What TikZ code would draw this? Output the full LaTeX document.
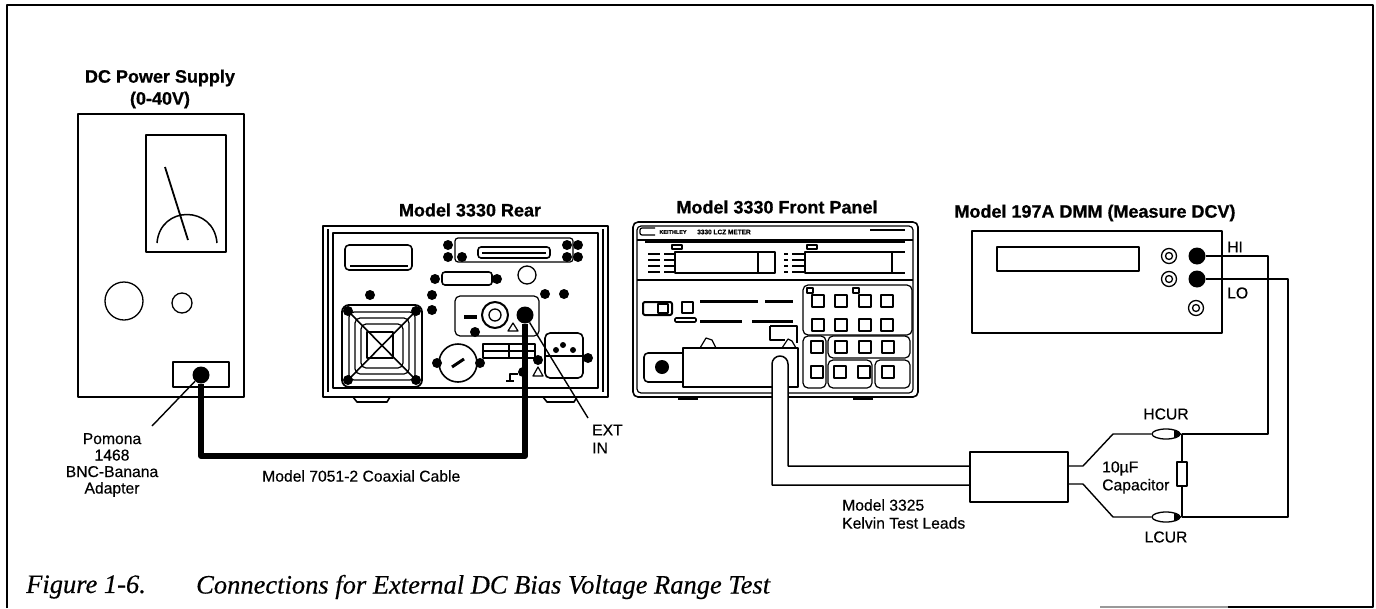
\documentclass[tikz,border=0pt]{standalone}
\usepackage{fontspec}
\setmainfont{Liberation Sans}[BoldFeatures={FakeBold=0.8}]
\newfontfamily\leadfont[FakeBold=0.4]{Liberation Sans}
\newfontfamily\capfont[ItalicFeatures={FakeBold=0.4}]{Liberation Serif}
\usetikzlibrary{shapes.geometric}

\tikzset{%
        every panel/.style={
            rectangle,
            draw,
            line width=1.3,
            inner sep=0pt
        },
        every jack/.style={
            circle,
            fill=black,
            inner sep=0pt,
            minimum size=17
        },
        ring jack/.style={
            circle,
            draw,
            line width=1.3,
            inner sep=0pt,
            minimum size=15
        },
        rear dot/.style={
            circle,
            fill=black,
            inner sep=0pt,
            minimum size=10
        },
        fp key/.style={
            rectangle,
            draw,
            line width=1.4,
            inner sep=0pt,
            minimum size=12
        },
        unit title/.style={
            font=\bfseries\fontsize{18}{22}\selectfont
        },
        lead text/.style={
            font=\leadfont\fontsize{15.7}{18}\selectfont,
            inner sep=0pt
        },
        cap text/.style={
            anchor=west,
            inner sep=0pt,
            font=\capfont\itshape\fontsize{26.5}{28}\selectfont
        },
        thin part/.style={
            line width=1.2
        },
    }

\begin{document}
\begin{tikzpicture}[x=1pt, y=-1pt, line join=round]

        \useasboundingbox (0,0) rectangle (1376,608);

        \coordinate (frame-a) at (7,608);
        \coordinate (frame-b) at (7,5);
        \coordinate (frame-c) at (1373,5);
        \coordinate (frame-d) at (1373,607);
        \coordinate (frame-e) at (1228,607);
        \coordinate (frame-f) at (1100,607);
        \draw [line width=1.6] (frame-a) -- (frame-b) -- (frame-c) -- (frame-d) -- (frame-e);
        \draw [line width=1.2, black!40] (frame-e) -- (frame-f);

        \node [unit title] (title-supply) at (160,78) {DC Power Supply};
        \node [unit title] (title-range) at (160,100) {(0-40V)};
        \node [unit title] (title-rear) at (470,210) {Model 3330 Rear};
        \node [unit title] (title-front) at (777,207) {Model 3330 Front Panel};
        \node [unit title] (title-dmm) at (1095,213) {Model 197A DMM (Measure DCV)};

        \node [every panel, minimum width=166, minimum height=283] (supply) at (161,255.5) {};
        \node [every panel, minimum width=80, minimum height=117] (meter) at (186,193.5) {};
        \draw [line width=1.8] (165,167) -- (188,240);
        \draw [line width=1.5] (157,243) .. controls (160,205) and (214,205) .. (217,243);
        \node [ring jack, minimum size=38] (knob-big) at (124,301) {};
        \node [ring jack, minimum size=20] (knob-small) at (182,303) {};
        \node [every panel, minimum width=56, minimum height=25] (supply-port) at (201,374.5) {};

        \draw [line width=2.5] (323,226) rectangle (608,397);
        \draw [thin part] (333,233) rectangle (598,388);
        \draw [thin part] (328,229) -- (328,392) (603,229) -- (603,392);
        \draw [line width=1.6] (353,397) -- (357,402) -- (387,402) -- (390,397);
        \draw [line width=1.6] (543,397) -- (547,402) -- (574,402) -- (577,397);
        \draw [line width=1.6, rounded corners=4] (345,245) rectangle (412,270);
        \draw [thin part] (350,266) -- (408,266);
        \draw [thin part, rounded corners=3] (455,238) rectangle (573,262);
        \draw [line width=1.6, rounded corners=3] (478,247) rectangle (550,258);
        \draw [line width=1.6] (482,253) -- (546,253);
        \draw [line width=1.6, rounded corners=3] (442,272) rectangle (492,285);
        \node [ring jack, minimum size=18] (rear-knob) at (527,275) {};
        \draw [thin part, rounded corners=5] (455,296) rectangle (539,336);
        \draw [line width=4] (464,317) -- (477,317);
        \node [ring jack, minimum size=26, line width=2] (rear-bnc) at (495,315) {};
        \node [ring jack, minimum size=12] (rear-bnc-in) at (495,315) {};
        \draw [thin part] (513,323) -- (518,331) -- (508,331) -- cycle;

        \draw [line width=1.8, rounded corners=7] (342,305) rectangle (422,387);
        \foreach \d in {7,13,19}
            \draw [thin part, rounded corners=5] (342+\d,305+\d) rectangle (422-\d,387-\d);
        \draw [thin part] (367,332) rectangle (393,358);
        \draw [line width=1.6] (348,311) -- (416,380) (416,311) -- (348,380);

        \node [ring jack, minimum size=38, line width=1.6] (rear-gauge) at (458,363) {};
        \draw [line width=3] (452,367) -- (464,359);
        \draw [thin part] (483,344) rectangle (535,358) (483,351) -- (535,351) (509,344) -- (509,358);
        \draw [thin part] (538,367) -- (543,376) -- (533,376) -- cycle;
        \draw [line width=1.8] (518,374) -- (510,374) -- (510,382) (506,381) -- (514,381);
        \draw [line width=1.6, rounded corners=5] (545,333) rectangle (583,378);
        \draw [thin part] (545,356) -- (583,356);

        \foreach \x/\y [count=\i] in {448/245,448/257,462/257,567/245,578/245,567/257,578/257,
            435/279,497/279,370/295,432/295,432/310,545/294,564/294,475/332,
            348/311,416/311,348/380,416/380,437/363,480/363,538/360,523/372,588/358}
            \node [rear dot] (rear-dot-\i) at (\x,\y) {};
        \foreach \x/\y [count=\i] in {556/350,563/345,573/350}
            \node [rear dot, minimum size=6] (mains-pin-\i) at (\x,\y) {};

        \node [every jack] (supply-jack) at (201,375) {};
        \node [every jack] (rear-jack) at (525,315) {};
        \coordinate (cable-low) at (360,456);
        \draw [line width=6] (supply-jack) |- (cable-low) -| (rear-jack);

        \coordinate (pomona-end) at (152,426);
        \draw [line width=1.4] (supply-jack) -- (pomona-end);
        \coordinate (ext-end) at (588,418);
        \draw [line width=1.4] (rear-jack) -- (ext-end);

        \node [lead text, align=center, font=\leadfont\fontsize{15.7}{16.5}\selectfont] (pomona) at (112,465) {Pomona\\1468\\BNC-Banana\\Adapter};
        \node [lead text, align=left, anchor=west] (ext-in) at (592,439) {EXT\\IN};
        \node [lead text, anchor=west] (cable-text) at (262,476) {Model 7051-2 Coaxial Cable};

        \draw [line width=1.6, rounded corners=5] (633,222) rectangle (918,397);
        \draw [thin part, rounded corners=4] (637,226) rectangle (913,393);
        \draw [thin part] (637,240) -- (913,240);
        \draw [line width=1.6] (645,242) -- (905,242) (637,280) -- (913,280);
        \draw [thin part, rounded corners=2] (655,228) -- (640,228) -- (640,235) -- (655,235);
        \node [font=\bfseries\fontsize{5.5}{6}\selectfont] (logo) at (673,232) {KEITHLEY};
        \node [font=\bfseries\fontsize{6.5}{7}\selectfont] (fp-name) at (724,232) {3330 LCZ METER};
        \draw [line width=1.5] (870,230) -- (905,230);
        \draw [line width=3] (678,398) -- (698,398) (853,398) -- (873,398);

        \draw [thin part] (675,252) rectangle (758,273) (758,252) -- (775,252) -- (775,273) -- (758,273);
        \draw [thin part] (805,252) rectangle (892,273) (892,252) -- (905,252) (892,273) -- (905,273);
        \foreach \y in {254,260,266,272} {
            \draw [line width=2] (648,\y) -- (660,\y);
            \draw [thin part] (664,\y) -- (674,\y);
            \draw [line width=2] (784,\y) -- (788,\y);
            \draw [thin part] (792,\y) -- (804,\y);
        }
        \draw [thin part] (672,245) rectangle (682,249) (807,245) rectangle (817,249);

        \draw [thin part, rounded corners=5] (803,285) rectangle (912,335);
        \draw [thin part, rounded corners=5] (803,336) rectangle (826,388);
        \draw [thin part, rounded corners=5] (828,336) rectangle (910,358);
        \draw [thin part, rounded corners=5] (828,360) rectangle (872,388);
        \draw [thin part, rounded corners=5] (875,360) rectangle (910,388);
        \draw [thin part] (807,288) rectangle (813,293) (853,288) rectangle (859,293);
        \foreach \x/\y [count=\i] in {818/301,841/301,865/301,887/301,818/325,841/325,865/325,887/325,
            817/347,841/347,865/347,888/347,817/372,840/372,864/372,888/372}
            \node [fp key] (key-\i) at (\x,\y) {};

        \draw [line width=2, rounded corners=2] (643,302) rectangle (672,315);
        \draw [thin part] (658,304) rectangle (668,313);
        \draw [thin part] (682,302) rectangle (693,313);
        \draw [line width=1.6, rounded corners=1] (675,318) rectangle (696,322);
        \foreach \a/\b [count=\i] in {700/758,765/793} {
            \draw [line width=3] (\a,301) -- (\b,301);
        }
        \foreach \a/\b [count=\i] in {700/742,752/793} {
            \draw [line width=3] (\a,321) -- (\b,321);
        }
        \draw [thin part] (770,326) -- (797,326) -- (797,343) (770,326) -- (770,340) -- (785,340);
        \draw [thin part] (782,348) -- (788,339) -- (792,341) -- (796,348);

        \draw [thin part] (700,348) -- (706,338) -- (712,340) -- (716,348);
        \draw [line width=1.6, rounded corners=4] (683,353) -- (644,353) -- (644,382) -- (683,382);
        \node [every jack, minimum size=14] (plug-dot) at (662,367) {};
        \node [every panel, fill=white, minimum width=115, minimum height=39] (plug) at (740.5,367.5) {};

        \fill [white] (772,364) arc [start angle=180, end angle=0, radius=8pt] -- (788,398) -- (772,398) -- cycle;

        \node [every panel, minimum width=98, minimum height=50] (leads-box) at (1019,477) {};
        \coordinate (tube-right) at (788,364);
        \coordinate (tube-left) at (772,364);
        \coordinate (box-a) at (970,466);
        \coordinate (box-b) at (970,485);
        \draw [line width=1.5] (box-a) -| (tube-right) arc [start angle=0, end angle=180, radius=8pt] |- (box-b);

        \node [ellipse, draw, line width=1.3, inner sep=0pt, minimum width=28, minimum height=10] (hcur-clip) at (1166,434) {};
        \node [ellipse, draw, line width=1.3, inner sep=0pt, minimum width=28, minimum height=10] (lcur-clip) at (1166,517) {};
        \fill (1174,430) -- (1182,434) -- (1174,438) -- cycle;
        \fill (1174,513) -- (1182,517) -- (1174,521) -- cycle;
        \draw [line width=1.4] (1068,466) -- (1083,466) -- (1113,434) -- (hcur-clip);
        \draw [line width=1.4] (1068,484) -- (1083,484) -- (1113,517) -- (lcur-clip);

        \coordinate (hcur-tip) at (1182,434);
        \coordinate (lcur-tip) at (1182,517);
        \node [every panel, minimum width=10, minimum height=24] (cap) at (1182,474) {};
        \draw [line width=1.3] (hcur-tip) -- (cap) -- (lcur-tip);

        \node [every panel, minimum width=250, minimum height=102] (dmm) at (1097,282) {};
        \node [every panel, minimum width=142, minimum height=24] (dmm-display) at (1068,259) {};
        \foreach \x/\y [count=\i] in {1169/256,1169/279,1196/308}{
            \node [ring jack] (ring-\i) at (\x,\y) {};
            \node [ring jack, minimum size=7] (ring-in-\i) at (\x,\y) {};
        }
        \node [every jack] (dmm-hi) at (1197,256) {};
        \node [every jack] (dmm-lo) at (1197,279) {};

        \draw [line width=1.4] (dmm-hi) -| (1268,434) -- (hcur-tip);
        \draw [line width=1.4] (dmm-lo) -| (1288,517) -- (lcur-tip);

        \node [lead text, anchor=west] (hi-text) at (1227,247) {HI};
        \node [lead text, anchor=west] (lo-text) at (1227,293) {LO};
        \node [lead text] (hcur-text) at (1166,414) {HCUR};
        \node [lead text] (lcur-text) at (1166,537) {LCUR};
        \node [lead text, align=left, anchor=west] (cap-text) at (1102,477.5) {10µF\\Capacitor};
        \node [lead text, align=left, anchor=west] (kelvin-text) at (842,514) {Model 3325\\Kelvin Test Leads};

        \node [cap text] (fig-num) at (26,587) {Figure 1-6.};
        \node [cap text] (fig-text) at (196,587) {Connections for External DC Bias Voltage Range Test};
    \end{tikzpicture}
\end{document}
